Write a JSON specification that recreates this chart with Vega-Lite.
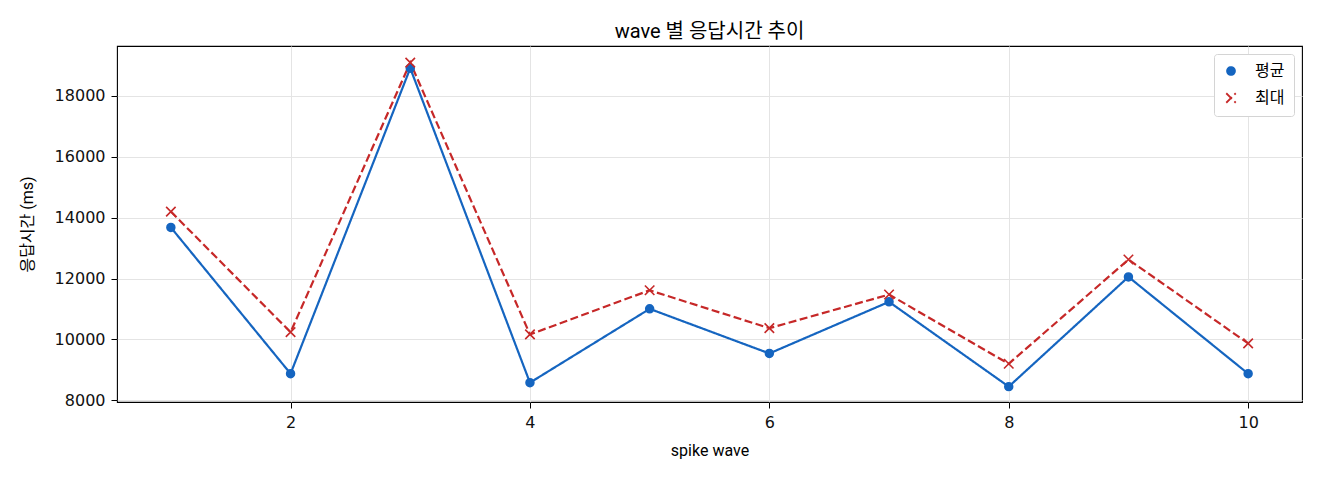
{
  "$schema": "https://vega.github.io/schema/vega-lite/v6.json",
  "width": 1185,
  "height": 356,
  "autosize": {"type": "none"},
  "padding": {"left": 117, "top": 46, "right": 18, "bottom": 78},
  "background": "white",
  "title": {
    "text": "wave 별 응답시간 추이",
    "font": "Roboto, Noto Sans CJK KR",
    "fontSize": 20,
    "fontWeight": "normal",
    "color": "#000",
    "baseline": "middle",
    "offset": 7,
    "dy": 13
  },
  "data": {
    "values": [
      {"wave": 1, "series": "평균", "ms": 13680},
      {"wave": 2, "series": "평균", "ms": 8875},
      {"wave": 3, "series": "평균", "ms": 18910},
      {"wave": 4, "series": "평균", "ms": 8580},
      {"wave": 5, "series": "평균", "ms": 11005},
      {"wave": 6, "series": "평균", "ms": 9540},
      {"wave": 7, "series": "평균", "ms": 11235},
      {"wave": 8, "series": "평균", "ms": 8450},
      {"wave": 9, "series": "평균", "ms": 12055},
      {"wave": 10, "series": "평균", "ms": 8875},
      {"wave": 1, "series": "최대", "ms": 14200},
      {"wave": 2, "series": "최대", "ms": 10240},
      {"wave": 3, "series": "최대", "ms": 19095},
      {"wave": 4, "series": "최대", "ms": 10165},
      {"wave": 5, "series": "최대", "ms": 11615},
      {"wave": 6, "series": "최대", "ms": 10370},
      {"wave": 7, "series": "최대", "ms": 11475},
      {"wave": 8, "series": "최대", "ms": 9200},
      {"wave": 9, "series": "최대", "ms": 12625},
      {"wave": 10, "series": "최대", "ms": 9870}
    ]
  },
  "encoding": {
    "x": {
      "field": "wave",
      "type": "quantitative",
      "title": "spike wave",
      "scale": {"domain": [0.55, 10.45], "nice": false, "zero": false},
      "axis": {"values": [2, 4, 6, 8, 10], "format": "d", "titlePadding": 12}
    },
    "y": {
      "field": "ms",
      "type": "quantitative",
      "title": "응답시간 (ms)",
      "scale": {"domain": [7945, 19640], "nice": false, "zero": false},
      "axis": {"values": [8000, 10000, 12000, 14000, 16000, 18000], "format": "d", "titlePadding": 19}
    }
  },
  "layer": [
    {
      "mark": {"type": "line", "strokeWidth": 2.2},
      "encoding": {
        "strokeDash": {
          "field": "series",
          "type": "nominal",
          "scale": {"domain": ["평균", "최대"], "range": [[1, 0], [8, 3.5]]},
          "legend": null
        },
        "color": {
          "field": "series",
          "type": "nominal",
          "scale": {"domain": ["평균", "최대"], "range": ["#1565c0", "#c62828"]},
          "legend": {
            "title": null,
            "orient": "top-right",
            "offset": 8,
            "padding": 9,
            "fillColor": "white",
            "strokeColor": "#d4d4d4",
            "cornerRadius": 3,
            "symbolStrokeWidth": 1.8,
            "symbolDash": [],
            "symbolOpacity": 1,
            "labelFont": "Noto Sans CJK KR",
            "labelFontSize": 16,
            "labelColor": "#000",
            "labelOffset": 16,
            "rowPadding": 10
          }
        }
      }
    },
    {
      "mark": {"type": "point", "filled": true, "opacity": 1, "strokeWidth": 1.6},
      "encoding": {
        "color": {
          "field": "series",
          "type": "nominal",
          "scale": {"domain": ["평균", "최대"], "range": ["#1565c0", "#c62828"]}
        },
        "shape": {
          "field": "series",
          "type": "nominal",
          "scale": {"domain": ["평균", "최대"], "range": ["circle", "M-1,-1L1,1M-1,1L1,-1"]},
          "legend": null
        },
        "size": {
          "field": "series",
          "type": "nominal",
          "scale": {"domain": ["평균", "최대"], "range": [62, 90]},
          "legend": null
        },
        "stroke": {
          "field": "series",
          "type": "nominal",
          "scale": {"domain": ["평균", "최대"], "range": ["#1565c0", "#c62828"]},
          "legend": null
        }
      }
    }
  ],
  "config": {
    "view": {"stroke": "#000", "strokeWidth": 1.1},
    "axis": {
      "domain": false,
      "grid": true,
      "gridColor": "#e4e4e4",
      "gridWidth": 1,
      "tickColor": "#000",
      "tickSize": 6,
      "tickWidth": 1,
      "labelPadding": 6,
      "labelFont": "DejaVu Sans",
      "labelFontSize": 16,
      "labelColor": "#111",
      "titleFont": "Roboto, Noto Sans CJK KR",
      "titleFontSize": 16,
      "titleFontWeight": "normal",
      "titleColor": "#000"
    }
  }
}
